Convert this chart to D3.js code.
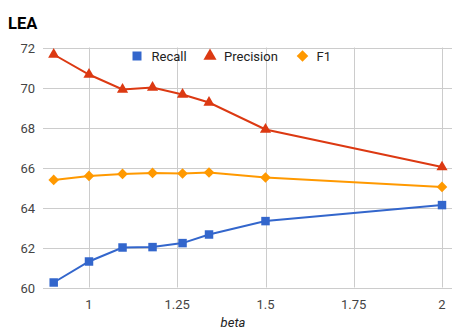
<!DOCTYPE html>
<html><head><meta charset="utf-8">
<script src="https://cdn.jsdelivr.net/npm/d3@7/dist/d3.min.js"></script>
<style>body{margin:0;background:#fff}svg{display:block;font-family:Roboto,Arial,sans-serif}</style>
</head><body><svg id="c" width="473" height="336"></svg>
<script>
const betas = [0.9, 1.0, 1.095, 1.18, 1.265, 1.34, 1.5, 2.0];
const recall = [60.25, 61.3, 62.0, 62.02, 62.22, 62.65, 63.32, 64.12];
const precision = [71.65, 70.65, 69.9, 70.0, 69.65, 69.25, 67.9, 66.02];
const f1 = [65.38, 65.58, 65.68, 65.73, 65.7, 65.75, 65.5, 65.03];
const seriesNames = ["Recall", "Precision", "F1"];
const colors = ["#3366cc", "#dc3912", "#ff9900"];
const xTicks = [1, 1.25, 1.5, 1.75, 2];
const yTicks = [60, 62, 64, 66, 68, 70, 72];
const title = "LEA";
const xTitle = "beta";

const svg = d3.select("#c");
const x = d3.scaleLinear().domain([1, 2]).range([89, 442]);
const y = d3.scaleLinear().domain([60, 72]).range([287.5, 47.5]);
const left = 43, right = 452;

// grid
const g = svg.append("g");
g.selectAll(".hg").data(yTicks).join("line")
  .attr("x1", left).attr("x2", right)
  .attr("y1", d => Math.round(y(d)) + 0.5).attr("y2", d => Math.round(y(d)) + 0.5)
  .attr("stroke", "#cccccc").attr("stroke-width", 1);
g.selectAll(".vg").data(xTicks).join("line")
  .attr("x1", d => Math.round(x(d)) + 0.5).attr("x2", d => Math.round(x(d)) + 0.5)
  .attr("y1", y(72)).attr("y2", y(60))
  .attr("stroke", "#cccccc").attr("stroke-width", 1);

// axis labels
svg.selectAll(".yl").data(yTicks).join("text")
  .attr("x", 35).attr("y", d => y(d) + 5)
  .attr("text-anchor", "end").attr("font-size", 13).attr("fill", "#444")
  .text(d => d);
svg.selectAll(".xl").data(xTicks).join("text")
  .attr("x", d => x(d)).attr("y", 309)
  .attr("text-anchor", "middle").attr("font-size", 13).attr("fill", "#444")
  .text(d => d);
svg.append("text").attr("x", 233).attr("y", 327).attr("text-anchor", "middle")
  .attr("font-size", 13).attr("font-style", "italic").attr("fill", "#222").text(xTitle);
svg.append("text").attr("x", 8).attr("y", 29).attr("font-size", 16.5).attr("font-weight", "bold")
  .attr("fill", "#000").text(title);

const data = [recall, precision, f1];
const symbols = [d3.symbolSquare, d3.symbolTriangle, d3.symbolSquare];
const sizes = [72, 54, 56];
const legSizes = [81, 74, 67];
const rot = [0, 0, 45];
const line = d3.line().x((d, i) => x(betas[i])).y(d => y(d));

data.forEach((vals, k) => {
  svg.append("path").datum(vals).attr("d", line)
    .attr("fill", "none").attr("stroke", colors[k]).attr("stroke-width", 2);
  svg.selectAll(".m" + k).data(vals).join("path")
    .attr("transform", (d, i) => `translate(${x(betas[i])},${y(d)}) rotate(${rot[k]})`)
    .attr("d", d3.symbol().type(symbols[k]).size(sizes[k]))
    .attr("fill", colors[k]);
});

// legend
const legX = [137, 210, 302.5];
const legTX = [151.5, 224, 316.5];
const lg = svg.append("g");
seriesNames.forEach((n, k) => {
  lg.append("path").attr("transform", `translate(${legX[k]},56) rotate(${rot[k]})`)
    .attr("d", d3.symbol().type(symbols[k]).size(legSizes[k])).attr("fill", colors[k]);
  lg.append("text").attr("x", legTX[k]).attr("y", 60.5).attr("font-size", 13)
    .attr("fill", "#222").text(n);
});
</script></body></html>
